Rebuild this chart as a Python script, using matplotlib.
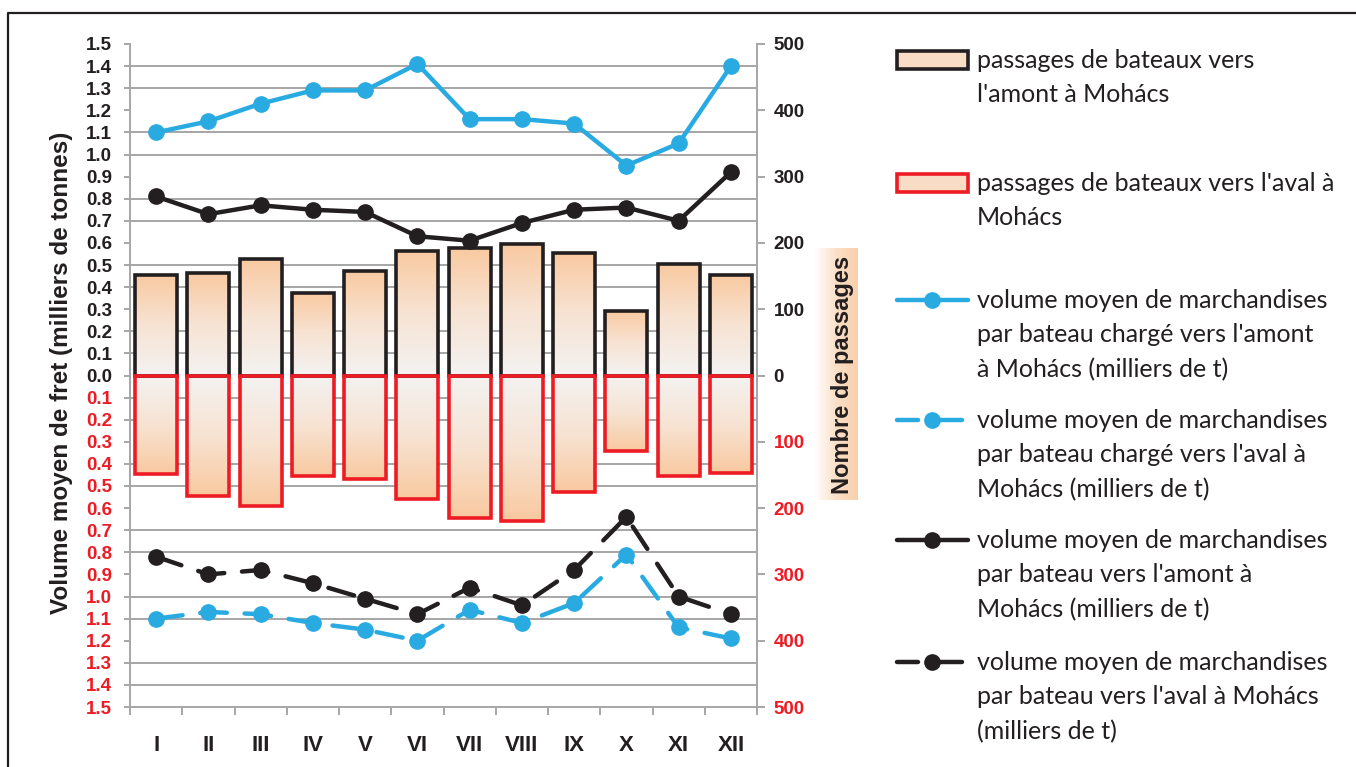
import matplotlib
matplotlib.use("Agg")
import matplotlib.pyplot as plt
import numpy as np
from matplotlib.colors import LinearSegmentedColormap
from matplotlib.lines import Line2D
from matplotlib.patches import Rectangle

# monthly data, Mohács
months = ['I', 'II', 'III', 'IV', 'V', 'VI', 'VII', 'VIII', 'IX', 'X', 'XI', 'XII']
passages_amont = [151, 154, 176, 124, 158, 188, 193, 199, 185, 98, 168, 152]
passages_aval = [148, 181, 197, 152, 156, 186, 215, 220, 175, 114, 151, 147]
vol_charge_amont = [1.10, 1.15, 1.23, 1.29, 1.29, 1.41, 1.16, 1.16, 1.14, 0.95, 1.05, 1.40]
vol_charge_aval = [1.10, 1.07, 1.08, 1.12, 1.15, 1.20, 1.06, 1.12, 1.03, 0.81, 1.14, 1.19]
vol_amont = [0.81, 0.73, 0.77, 0.75, 0.74, 0.63, 0.61, 0.69, 0.75, 0.76, 0.70, 0.92]
vol_aval = [0.82, 0.90, 0.88, 0.94, 1.01, 1.08, 0.96, 1.04, 0.88, 0.64, 1.00, 1.08]

legend_labels = [
    "passages de bateaux vers\nl'amont à Mohács",
    "passages de bateaux vers l'aval à\nMohács",
    "volume moyen de marchandises\npar bateau chargé vers l'amont\nà Mohács (milliers de t)",
    "volume moyen de marchandises\npar bateau chargé vers l'aval à\nMohács (milliers de t)",
    "volume moyen de marchandises\npar bateau vers l'amont à\nMohács (milliers de t)",
    "volume moyen de marchandises\npar bateau vers l'aval à Mohács\n(milliers de t)",
]

BLUE = '#29abe2'
BLACK = '#231f20'
RED = '#ed1c24'
GRID = '#a6a6a6'
PEACH = '#f9c9a0'

plt.rcParams['font.family'] = ['Liberation Sans', 'DejaVu Sans']

W, H = 1356, 767
fig = plt.figure(figsize=(W / 100, H / 100), dpi=100)

def fx(px):
    return px / W

def fy(py):
    return 1 - py / H

x = np.arange(len(months))

# bars axis (passages, right scale) underneath
ax_b = fig.add_axes([fx(130), fy(707), fx(757) - fx(130), fy(44) - fy(707)])

# grid every 0.1 of the left scale
ax_b.set_yticks(np.arange(-15, 16) * 100 / 3, minor=True)
ax_b.grid(which='minor', axis='y', color=GRID, lw=1.4, zorder=1)
ax_b.set_axisbelow(True)
ax_b.tick_params(axis='y', which='minor', length=0)

cmap = LinearSegmentedColormap.from_list('peach', ['#f3f2f1', '#f7e3d3', PEACH])
grad = np.linspace(0, 1, 256).reshape(-1, 1)

up = ax_b.bar(x, passages_amont, width=0.8, facecolor='none', edgecolor=BLACK,
              lw=2.6, zorder=3)
down = ax_b.bar(x, -np.array(passages_aval), width=0.8, facecolor='none',
                edgecolor=RED, lw=2.6, zorder=3)
for b in list(up) + list(down):
    x0, w, h = b.get_x(), b.get_width(), b.get_height()
    img = ax_b.imshow(grad, extent=(x0, x0 + w, 0, h), origin='lower', cmap=cmap,
                      aspect='auto', zorder=2)
    img.set_clip_path(b)
ax_b.set_xlim(-0.5, 11.5)
ax_b.set_ylim(-500, 500)

ax_b.set_xticks(x)
ax_b.set_xticklabels(months, fontsize=16, fontweight='bold', color=BLACK)
ax_b.set_xticks(np.arange(-0.5, 12, 1), minor=True)
ax_b.tick_params(axis='x', which='major', length=0, pad=20)
ax_b.tick_params(axis='x', which='minor', length=6, width=1.4, color=GRID)
for s in ['left', 'right', 'bottom']:
    ax_b.spines[s].set_color(GRID)
    ax_b.spines[s].set_linewidth(1.4)
ax_b.spines['top'].set_visible(False)

# lines axis (freight volume, left scale) on top
ax_l = ax_b.twinx()
ax_l.set_ylim(-1.5, 1.5)
ax_l.yaxis.tick_left()
ticks = np.round(np.arange(-15, 16) / 10, 1)
ax_l.set_yticks(ticks)
ax_l.set_yticklabels(['%.1f' % abs(t) for t in ticks], fontsize=13.5, fontweight='bold')
for lab, t in zip(ax_l.yaxis.get_majorticklabels(), ticks):
    lab.set_color(RED if t < 0 else BLACK)
ax_l.tick_params(axis='y', length=4, width=1.4, color=GRID, pad=9)
for s in ax_l.spines.values():
    s.set_visible(False)

# right scale (twinx put the bar axis ticks on the left, move them back)
ax_b.yaxis.tick_right()
pas_ticks = list(range(-500, 501, 100))
ax_b.set_yticks(pas_ticks)
ax_b.set_yticklabels([str(abs(v)) for v in pas_ticks], fontsize=13.5, fontweight='bold')
for lab, v in zip(ax_b.yaxis.get_majorticklabels(), pas_ticks):
    lab.set_color(RED if v < 0 else BLACK)
ax_b.tick_params(axis='y', which='major', length=6, width=1.4, color=GRID, pad=6)
ax_b.tick_params(axis='y', which='minor', length=0)

ax_l.plot(x, vol_charge_amont, color=BLUE, lw=3.2, marker='o', ms=11,
          solid_capstyle='round')
ax_l.plot(x, vol_amont, color=BLACK, lw=3.2, marker='o', ms=11,
          solid_capstyle='round')
ax_l.plot(x, -np.array(vol_charge_aval), color=BLUE, lw=3.2, marker='o', ms=11,
          dashes=(6, 4), dash_capstyle='round')
ax_l.plot(x, -np.array(vol_aval), color=BLACK, lw=3.2, marker='o', ms=11,
          dashes=(6, 4), dash_capstyle='round')

# axis titles
fig.text(fx(62), fy(373), 'Volume moyen de fret (milliers de tonnes)', rotation=90,
         ha='center', va='center', fontsize=17.5, fontweight='bold', color=BLACK)
bg = fig.add_axes([fx(814), fy(500), fx(858) - fx(814), fy(248) - fy(500)])
bg.imshow(np.linspace(0, 1, 64).reshape(1, -1), cmap=LinearSegmentedColormap.from_list(
    'bgp', ['#ffffff', '#fbe0c8', '#f9cfab']), aspect='auto')
bg.axis('off')
fig.text(fx(843), fy(375), 'Nombre de passages', rotation=90, ha='center',
         va='center', fontsize=17, fontweight='bold', color=BLACK)

# outer frame
fig.add_artist(Line2D([fx(8), fx(8), 1], [0, fy(13), fy(13)], color=BLACK, lw=1.6))

# legend
entry_y = [60, 183, 300, 420, 540, 662]
for i, (lab, py) in enumerate(zip(legend_labels, entry_y)):
    fig.text(fx(977), fy(py - 11), lab, ha='left', va='top', fontsize=18,
             family=['Lato', 'DejaVu Sans'], color=BLACK, linespacing=1.6)
    if i < 2:
        fig.add_artist(Rectangle((fx(897), fy(py + 9)), fx(968) - fx(897),
                                 fy(py - 9) - fy(py + 9), transform=fig.transFigure,
                                 facecolor='#f8dcc6', edgecolor=BLACK if i == 0 else RED,
                                 lw=2.6))
    else:
        col = BLUE if i in (2, 3) else BLACK
        if i in (2, 4):
            fig.add_artist(Line2D([fx(897), fx(968)], [fy(py), fy(py)], color=col, lw=3.2,
                                  solid_capstyle='round', transform=fig.transFigure))
        else:
            for a, b in [(897, 918), (940, 962)]:
                fig.add_artist(Line2D([fx(a), fx(b)], [fy(py), fy(py)], color=col, lw=3.2,
                                      solid_capstyle='round', transform=fig.transFigure))
        fig.add_artist(Line2D([fx(932)], [fy(py)], color=col, marker='o', ms=11,
                              transform=fig.transFigure))

fig.savefig('out.png', dpi=100)
